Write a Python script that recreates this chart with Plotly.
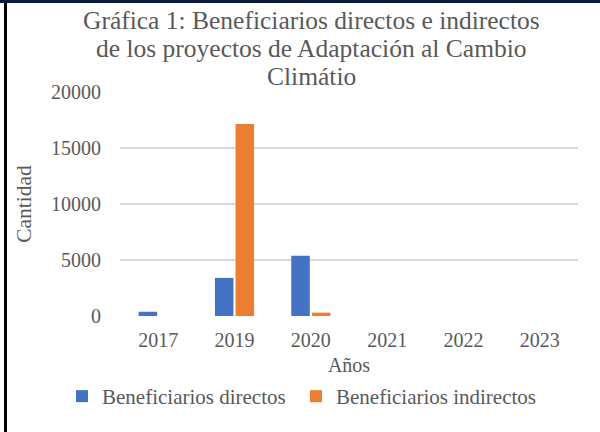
import plotly.graph_objects as go

# data
years = ["2017", "2019", "2020", "2021", "2022", "2023"]
directos = [380, 3400, 5370, 0, 0, 0]
indirectos = [0, 17150, 300, 0, 0, 0]
y_ticks = [0, 5000, 10000, 15000, 20000]
title_lines = ["Gráfica 1: Beneficiarios directos e indirectos",
               "de los proyectos de Adaptación al Cambio",
               "Climátio"]

FONT = "Liberation Serif, Times New Roman, serif"
GREY = "#595959"

fig = go.Figure()
fig.add_trace(go.Bar(x=years, y=directos, name="Beneficiarios directos",
                     marker=dict(color="#4472C4", line=dict(width=0)),
                     legend="legend"))
fig.add_trace(go.Bar(x=years, y=indirectos, name="Beneficiarios indirectos",
                     marker=dict(color="#ED7D31", line=dict(width=0)),
                     legend="legend2"))

ml, mr, mt, mb = 120, 22, 92, 116
W, H = 600 - ml - mr, 432 - mt - mb
px = lambda v: (v - ml) / W
py = lambda v: (432 - mb - v) / H

# frame of the original box (top and left edges only)
fig.add_shape(type="line", xref="paper", yref="paper",
              x0=px(0), x1=px(600), y0=py(1.5), y1=py(1.5),
              line=dict(color="#0b1a3c", width=3))
fig.add_shape(type="line", xref="paper", yref="paper",
              x0=px(5.5), x1=px(5.5), y0=py(3), y1=py(432),
              line=dict(color="black", width=3))

# title, tight line spacing like the original
for line, yc in zip(title_lines, [20, 48.5, 77]):
    fig.add_annotation(text=line, xref="paper", yref="paper",
                       x=px(311), y=py(yc), xanchor="center", yanchor="middle",
                       showarrow=False,
                       font=dict(family=FONT, size=25.5, color=GREY))

legend_style = dict(orientation="h", xref="container", yref="container",
                    xanchor="left", y=1 - 376 / 432, yanchor="top",
                    font=dict(family=FONT, size=21, color=GREY))

fig.update_layout(
    width=600, height=432,
    margin=dict(l=ml, r=mr, t=mt, b=mb, autoexpand=False),
    paper_bgcolor="white", plot_bgcolor="white",
    font=dict(family=FONT, color=GREY, size=20),
    barmode="group", bargap=0.46, bargroupgap=0.1,
    showlegend=True,
    legend=dict(x=62 / 600, **legend_style),
    legend2=dict(x=296 / 600, **legend_style),
)
fig.update_xaxes(title=dict(text="Años", standoff=18, font=dict(family=FONT, size=20)),
                 tickfont=dict(family=FONT, size=20),
                 showgrid=False, showline=False, ticks="",
                 ticklabelstandoff=10)
fig.update_yaxes(title=dict(text="Cantidad", standoff=13, font=dict(family=FONT, size=21.5)),
                 tickfont=dict(family=FONT, size=20),
                 range=[0, 20000], tickvals=y_ticks, tickformat="d",
                 showgrid=True, gridcolor="#D9D9D9", gridwidth=1.5,
                 zeroline=False, showline=False, ticks="",
                 ticklabelstandoff=18)

fig.write_html("out.html", config={"displayModeBar": False},
               post_script="document.body.style.margin='0px';")
